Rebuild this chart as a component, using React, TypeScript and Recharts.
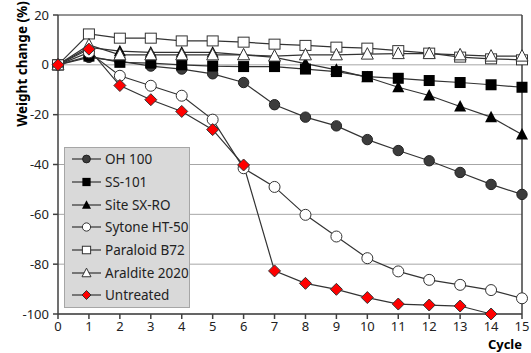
import React from "react";
import {
  LineChart,
  Line,
  XAxis,
  YAxis,
  CartesianGrid,
  ReferenceLine,
  Legend,
} from "recharts";

const cycles = [0, 1, 2, 3, 4, 5, 6, 7, 8, 9, 10, 11, 12, 13, 14, 15];
const oh100 = [0, 3, 1.5, -0.5, -1.7, -3.6, -7.1, -16, -21, -24.5, -30, -34.4, -38.5, -43.2, -48, -52];
const ss101 = [0, 3.5, 1, 0.7, 0, -0.5, -0.7, -0.7, -1.7, -2.7, -4.7, -5.4, -6.3, -7.1, -8, -9];
const siteSxRo = [0, 7, 5.5, 5, 5, 5, 4, 3, 0.5, -2, -5, -9, -12.3, -16.7, -21, -28];
const sytone = [0, 5, -4.4, -8.4, -12.4, -22, -41.5, -49, -60.2, -68.9, -77.6, -82.9, -86.3, -88.3, -90.4, -93.7];
const paraloid = [0, 12.4, 10.7, 10.7, 9.6, 9.6, 9.1, 8.3, 7.8, 7.1, 6.7, 5.7, 4.7, 3.1, 2.4, 2];
const araldite = [0, 8, 4, 4, 4, 4, 4, 3.5, 4, 4, 4.3, 4.5, 4.5, 4, 3.5, 3.5];
const untreated: (number | null)[] = [0, 6.3, -8.3, -14, -18.7, -26, -40.2, -82.7, -87.7, -90.1, -93.4, -96, -96.4, -96.8, -100, null];

const yTicks = [-100, -80, -60, -40, -20, 0, 20];
const seriesNames = ["OH 100", "SS-101", "Site SX-RO", "Sytone HT-50", "Paraloid B72", "Araldite 2020", "Untreated"];
const xLabel = "Cycle";
const yLabel = "Weight change (%)";

const data = cycles.map((c, i) => ({
  cycle: c,
  oh100: oh100[i],
  ss101: ss101[i],
  site: siteSxRo[i],
  sytone: sytone[i],
  paraloid: paraloid[i],
  araldite: araldite[i],
  untreated: untreated[i],
}));

const FONT = "'Noto Sans', sans-serif";
const LINE = "#333";

type MK = "fcircle" | "fsquare" | "ftri" | "ocircle" | "osquare" | "otri" | "diamond";

function Marker({ kind, cx, cy, s = 1 }: { kind: MK; cx: number; cy: number; s?: number }) {
  switch (kind) {
    case "fcircle":
      return <circle cx={cx} cy={cy} r={5.2 * s} fill="#3c3c3c" stroke="#222" strokeWidth={1} />;
    case "ocircle":
      return <circle cx={cx} cy={cy} r={5.5 * s} fill="#fff" stroke="#333" strokeWidth={1} />;
    case "fsquare":
      return <rect x={cx - 5.5 * s} y={cy - 5.5 * s} width={11 * s} height={11 * s} fill="#000" />;
    case "osquare":
      return <rect x={cx - 5.5 * s} y={cy - 5 * s} width={11 * s} height={10 * s} fill="#fff" stroke="#333" strokeWidth={1} />;
    case "ftri":
      return <path d={`M${cx},${cy - 6.5 * s} L${cx + 6 * s},${cy + 5 * s} L${cx - 6 * s},${cy + 5 * s} Z`} fill="#000" />;
    case "otri":
      return <path d={`M${cx},${cy - 6.5 * s} L${cx + 6 * s},${cy + 5 * s} L${cx - 6 * s},${cy + 5 * s} Z`} fill="#fff" stroke="#333" strokeWidth={1} />;
    case "diamond":
      return <path d={`M${cx},${cy - 6 * s} L${cx + 6 * s},${cy} L${cx},${cy + 6 * s} L${cx - 6 * s},${cy} Z`} fill="#ff0000" stroke="#333" strokeWidth={1} />;
  }
  return null;
}

const series: { key: string; name: string; kind: MK }[] = [
  { key: "oh100", name: seriesNames[0], kind: "fcircle" },
  { key: "ss101", name: seriesNames[1], kind: "fsquare" },
  { key: "site", name: seriesNames[2], kind: "ftri" },
  { key: "sytone", name: seriesNames[3], kind: "ocircle" },
  { key: "paraloid", name: seriesNames[4], kind: "osquare" },
  { key: "araldite", name: seriesNames[5], kind: "otri" },
  { key: "untreated", name: seriesNames[6], kind: "diamond" },
];

const makeDot = (kind: MK) => (props: any) => {
  const { cx, cy, index, value } = props;
  if (cx == null || cy == null || value == null || isNaN(cy)) return <g key={`e-${index}`} />;
  return (
    <g key={`${kind}-${index}`}>
      <Marker kind={kind} cx={cx} cy={cy} />
    </g>
  );
};

const renderLegend = () => (
  <div
    style={{
      background: "#d9d9d9",
      border: "1px solid #a6a6a6",
      boxSizing: "border-box",
      width: 126,
      height: 161,
    }}
  >
    {series.map((s) => (
      <div key={s.key} style={{ display: "flex", alignItems: "center", height: 22.7, paddingLeft: 7 }}>
        <svg width={32} height={16} style={{ display: "block" }}>
          <line x1={0} y1={8} x2={29} y2={8} stroke={LINE} strokeWidth={1.2} />
          <Marker kind={s.kind} cx={14.5} cy={8} s={0.75} />
        </svg>
        <span style={{ fontFamily: FONT, fontSize: 13.5, color: "#222", marginLeft: 1, whiteSpace: "nowrap" }}>{s.name}</span>
      </div>
    ))}
  </div>
);

export default function App() {
  return (
    <div style={{ position: "absolute", left: 0, top: 0, width: 531, height: 353, background: "#fff" }}>
      <LineChart width={531} height={353} data={data} margin={{ top: 15, right: 9, bottom: 0, left: 0 }}>
        <CartesianGrid horizontal vertical={false} stroke="#a6a6a6" strokeWidth={1} />
        <XAxis
          dataKey="cycle"
          type="number"
          domain={[0, 15]}
          ticks={cycles}
          interval={0}
          height={39}
          tickSize={5}
          tickMargin={3}
          stroke="#404040"
          strokeWidth={1.5}
          tick={{ fontFamily: FONT, fontSize: 13, fill: "#222" }}
          label={{
            content: () => (
              <text x={522} y={349} textAnchor="end" fontFamily={FONT} fontWeight="bold" fontSize={13} fill="#000">
                {xLabel}
              </text>
            ),
          }}
        />
        <YAxis
          type="number"
          domain={[-100, 20]}
          ticks={yTicks}
          interval={0}
          width={58}
          tickSize={5}
          tickMargin={4}
          stroke="#404040"
          strokeWidth={1.5}
          tick={{ fontFamily: FONT, fontSize: 13, fill: "#222" }}
          label={{
            content: () => (
              <text
                x={22}
                y={64}
                textAnchor="middle"
                dominantBaseline="central"
                transform="rotate(-90, 22, 64)"
                fontFamily={FONT}
                fontWeight="bold"
                fontSize={13.5}
                fill="#000"
              >
                {yLabel}
              </text>
            ),
          }}
        />
        <ReferenceLine y={20} stroke="#555" strokeWidth={1} />
        <ReferenceLine x={15} stroke="#404040" strokeWidth={1.5} />
        <Legend
          verticalAlign="middle"
          align="center"
          layout="vertical"
          content={renderLegend}
          wrapperStyle={{ position: "absolute", left: 64, top: 147, width: 126, height: 161 }}
        />
        {series.map((s) => (
          <Line
            key={s.key}
            dataKey={s.key}
            name={s.name}
            stroke={LINE}
            strokeWidth={1.2}
            dot={makeDot(s.kind)}
            activeDot={false}
            isAnimationActive={false}
            connectNulls={false}
          />
        ))}
      </LineChart>
    </div>
  );
}
